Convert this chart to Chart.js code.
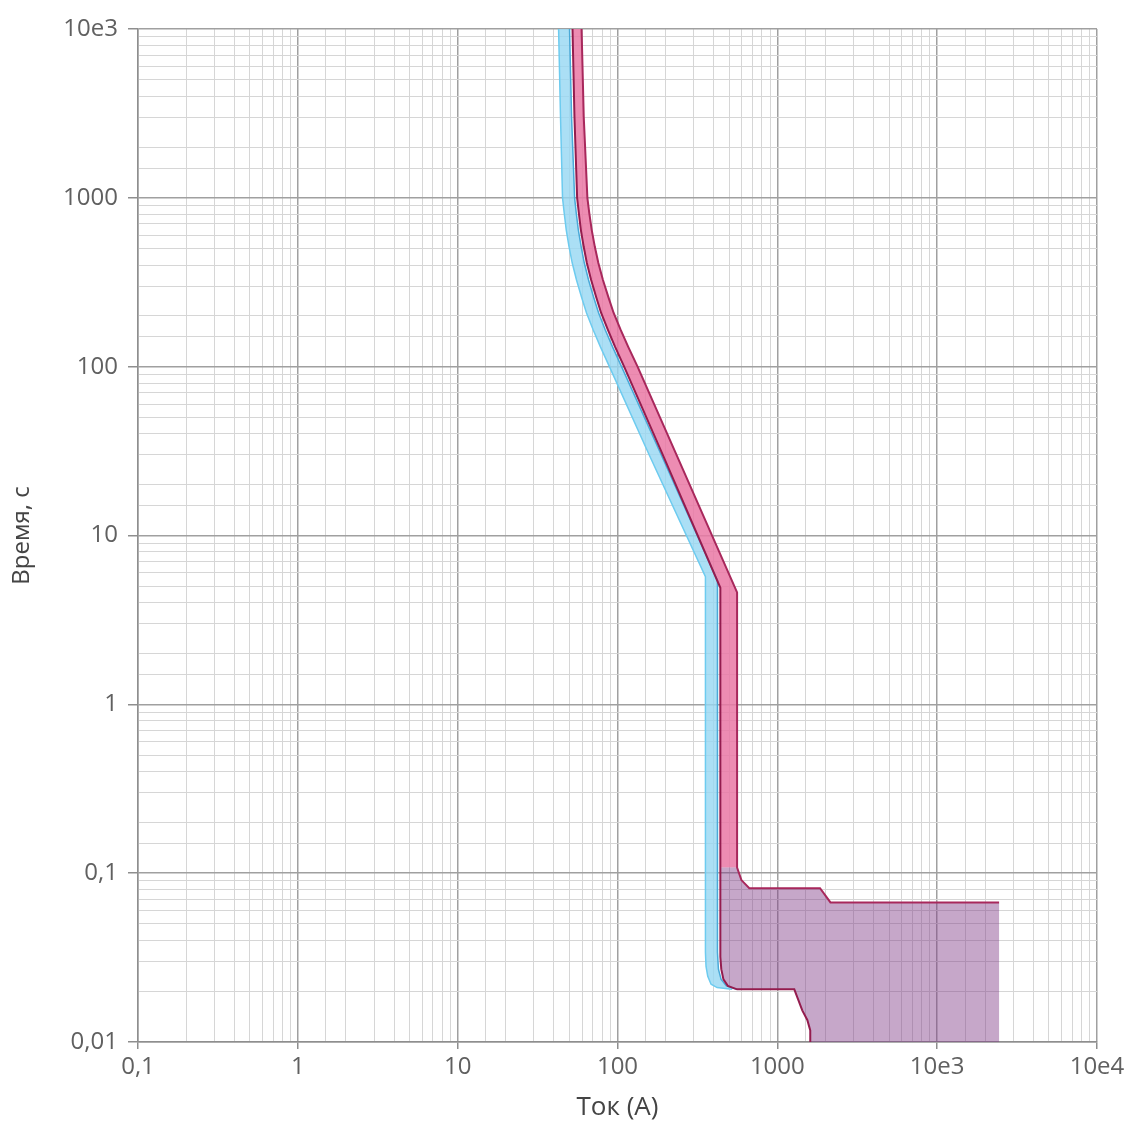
<!DOCTYPE html>
<html>
<head>
<meta charset="utf-8">
<script src="https://cdn.jsdelivr.net/npm/chart.js@4.4.1/dist/chart.umd.min.js"></script>
<style>
  html, body { margin: 0; padding: 0; background: #fff; }
  #wrap { width: 1131px; height: 1121px; }
</style>
</head>
<body>
<div id="wrap"><canvas id="tcc"></canvas></div>
<script>
// tick labels (decades only)
const xTickValues = [0.1, 1, 10, 100, 1000, 10000, 100000];
const xTickLabels = ['0,1', '1', '10', '100', '1000', '10e3', '10e4'];
const yTickValues = [0.01, 0.1, 1, 10, 100, 1000, 10000];
const yTickLabels = ['0,01', '0,1', '1', '10', '100', '1000', '10e3'];

// blue curve - left (min) and right (max) edge, current A / time s
const blueMinAmps = [42.8, 44, 45.3, 46.4, 47.8, 49.8, 52.1, 55.4, 59.6, 64, 70.5, 78.2, 89, 158, 355, 355, 358, 367, 385, 420, 520];
const blueMinSecs = [10000, 3000, 1000, 813, 644, 511, 411, 326, 258, 208, 165, 131, 100, 30, 5.7, 0.034, 0.028, 0.0245, 0.022, 0.021, 0.0205];
const blueMaxAmps = [50.1, 51.6, 53.9, 55.2, 56.9, 59.3, 62, 65.9, 70.9, 76.2, 83.9, 93.1, 106, 188, 422, 422, 428, 445, 480, 560];
const blueMaxSecs = [10000, 3000, 1000, 813, 644, 511, 411, 326, 258, 208, 165, 131, 100, 30, 5.4, 0.034, 0.027, 0.0235, 0.0215, 0.0205];

// red curve - left (min) and right (max) edge
const redMinAmps = [52.3, 53.8, 55.9, 57.3, 59, 61.5, 64.3, 68.4, 73.6, 79, 87.1, 96.6, 110, 192, 440, 440, 440, 446, 460, 490, 560, 1277, 1334, 1432, 1540, 1607, 1607];
const redMinSecs = [10000, 3000, 1000, 813, 644, 511, 411, 326, 258, 208, 165, 131, 100, 30, 4.9, 0.108, 0.032, 0.027, 0.0235, 0.0215, 0.0205, 0.0205, 0.0184, 0.0154, 0.0135, 0.0117, 0.01];
const redMaxAmps = [59.6, 61.5, 64.8, 66.6, 69, 72.2, 75.9, 81.1, 87.7, 94.6, 104.7, 116.7, 133.5, 234, 560, 560, 596, 668, 1850, 2150, 24400, 24400];
const redMaxSecs = [10000, 3000, 1000, 813, 644, 511, 411, 326, 258, 208, 165, 131, 100, 30, 4.6, 0.108, 0.091, 0.0815, 0.0815, 0.0671, 0.0671, 0.01];

const SPLIT = 0.108; // where the red band turns into the purple zone

const pts = (xs, ys) => xs.map((v, i) => ({x: v, y: ys[i]}));
const blueMin = pts(blueMinAmps, blueMinSecs);
const blueMax = pts(blueMaxAmps, blueMaxSecs);
const redMin = pts(redMinAmps, redMinSecs);
const redMax = pts(redMaxAmps, redMaxSecs);

const blueBand = blueMin.concat(blueMax.slice().reverse());
const redBand = redMin.filter(p => p.y >= SPLIT).concat(redMax.filter(p => p.y >= SPLIT).reverse());
const purpleZone = redMin.filter(p => p.y <= SPLIT).concat(redMax.filter(p => p.y <= SPLIT).reverse());

function isDecade(v) {
  const l = Math.log10(v);
  return Math.abs(l - Math.round(l)) < 1e-7;
}
function labelFor(v, vals, labels) {
  for (let i = 0; i < vals.length; i++) {
    if (Math.abs(v - vals[i]) / vals[i] < 1e-6) return labels[i];
  }
  return '';
}

function area(data, color, order) {
  return {data: data, showLine: true, fill: 'shape', backgroundColor: color,
    borderColor: 'rgba(0,0,0,0)', borderWidth: 0, pointRadius: 0, order: order};
}
function edge(data, color, width, order) {
  return {data: data, showLine: true, fill: false, borderColor: color,
    borderWidth: width, pointRadius: 0, order: order};
}

const gridOpts = {
  color: c => isDecade(c.tick.value) ? '#a0a0a0' : '#d6d6d6',
  lineWidth: c => isDecade(c.tick.value) ? 1.5 : 1,
  tickColor: c => isDecade(c.tick.value) ? '#8e8e8e' : 'rgba(0,0,0,0)'
};

new Chart(document.getElementById('tcc'), {
  type: 'scatter',
  data: {
    datasets: [
      area(blueBand, 'rgba(150,215,242,0.8)', 9),
      area(redBand, 'rgba(234,120,165,0.85)', 8),
      area(purpleZone, 'rgba(128,60,135,0.45)', 7),
      edge(blueMin, '#6dcbef', 1.5, 4),
      edge(blueMax, '#4aa9d8', 1.5, 3),
      edge(redMax.slice(0, -1), '#a8285c', 2, 2),
      edge(redMin, '#941c4e', 2, 1)
    ]
  },
  options: {
    responsive: true,
    maintainAspectRatio: false,
    animation: false,
    events: [],
    layout: {padding: {top: 29, right: 34, left: 0, bottom: 0}},
    plugins: {legend: {display: false}, tooltip: {enabled: false}},
    scales: {
      x: {
        type: 'logarithmic',
        min: 0.1,
        max: 100000,
        border: {color: '#8e8e8e', width: 1.5},
        grid: Object.assign({tickLength: 7}, gridOpts),
        ticks: {
          autoSkip: false, maxRotation: 0, minRotation: 0, padding: 4,
          color: '#606060', font: {family: 'Open Sans', size: 24},
          callback: v => labelFor(v, xTickValues, xTickLabels)
        },
        title: {
          display: true, text: 'Ток (А)', color: '#444',
          font: {family: 'Open Sans', size: 26, lineHeight: 1},
          padding: {top: 0, bottom: 0}
        },
        afterFit: s => { s.height = 79; }
      },
      y: {
        type: 'logarithmic',
        min: 0.01,
        max: 10000,
        border: {color: '#8e8e8e', width: 1.5},
        grid: Object.assign({tickLength: 10}, gridOpts),
        ticks: {
          autoSkip: false, padding: 10,
          color: '#606060', font: {family: 'Open Sans', size: 24},
          callback: v => labelFor(v, yTickValues, yTickLabels)
        },
        title: {
          display: true, text: 'Время, с', color: '#444',
          font: {family: 'Open Sans', size: 24, lineHeight: 1.2},
          padding: {top: 8, bottom: 0}
        },
        afterFit: s => { s.width = 138; }
      }
    }
  }
});
</script>
</body>
</html>
